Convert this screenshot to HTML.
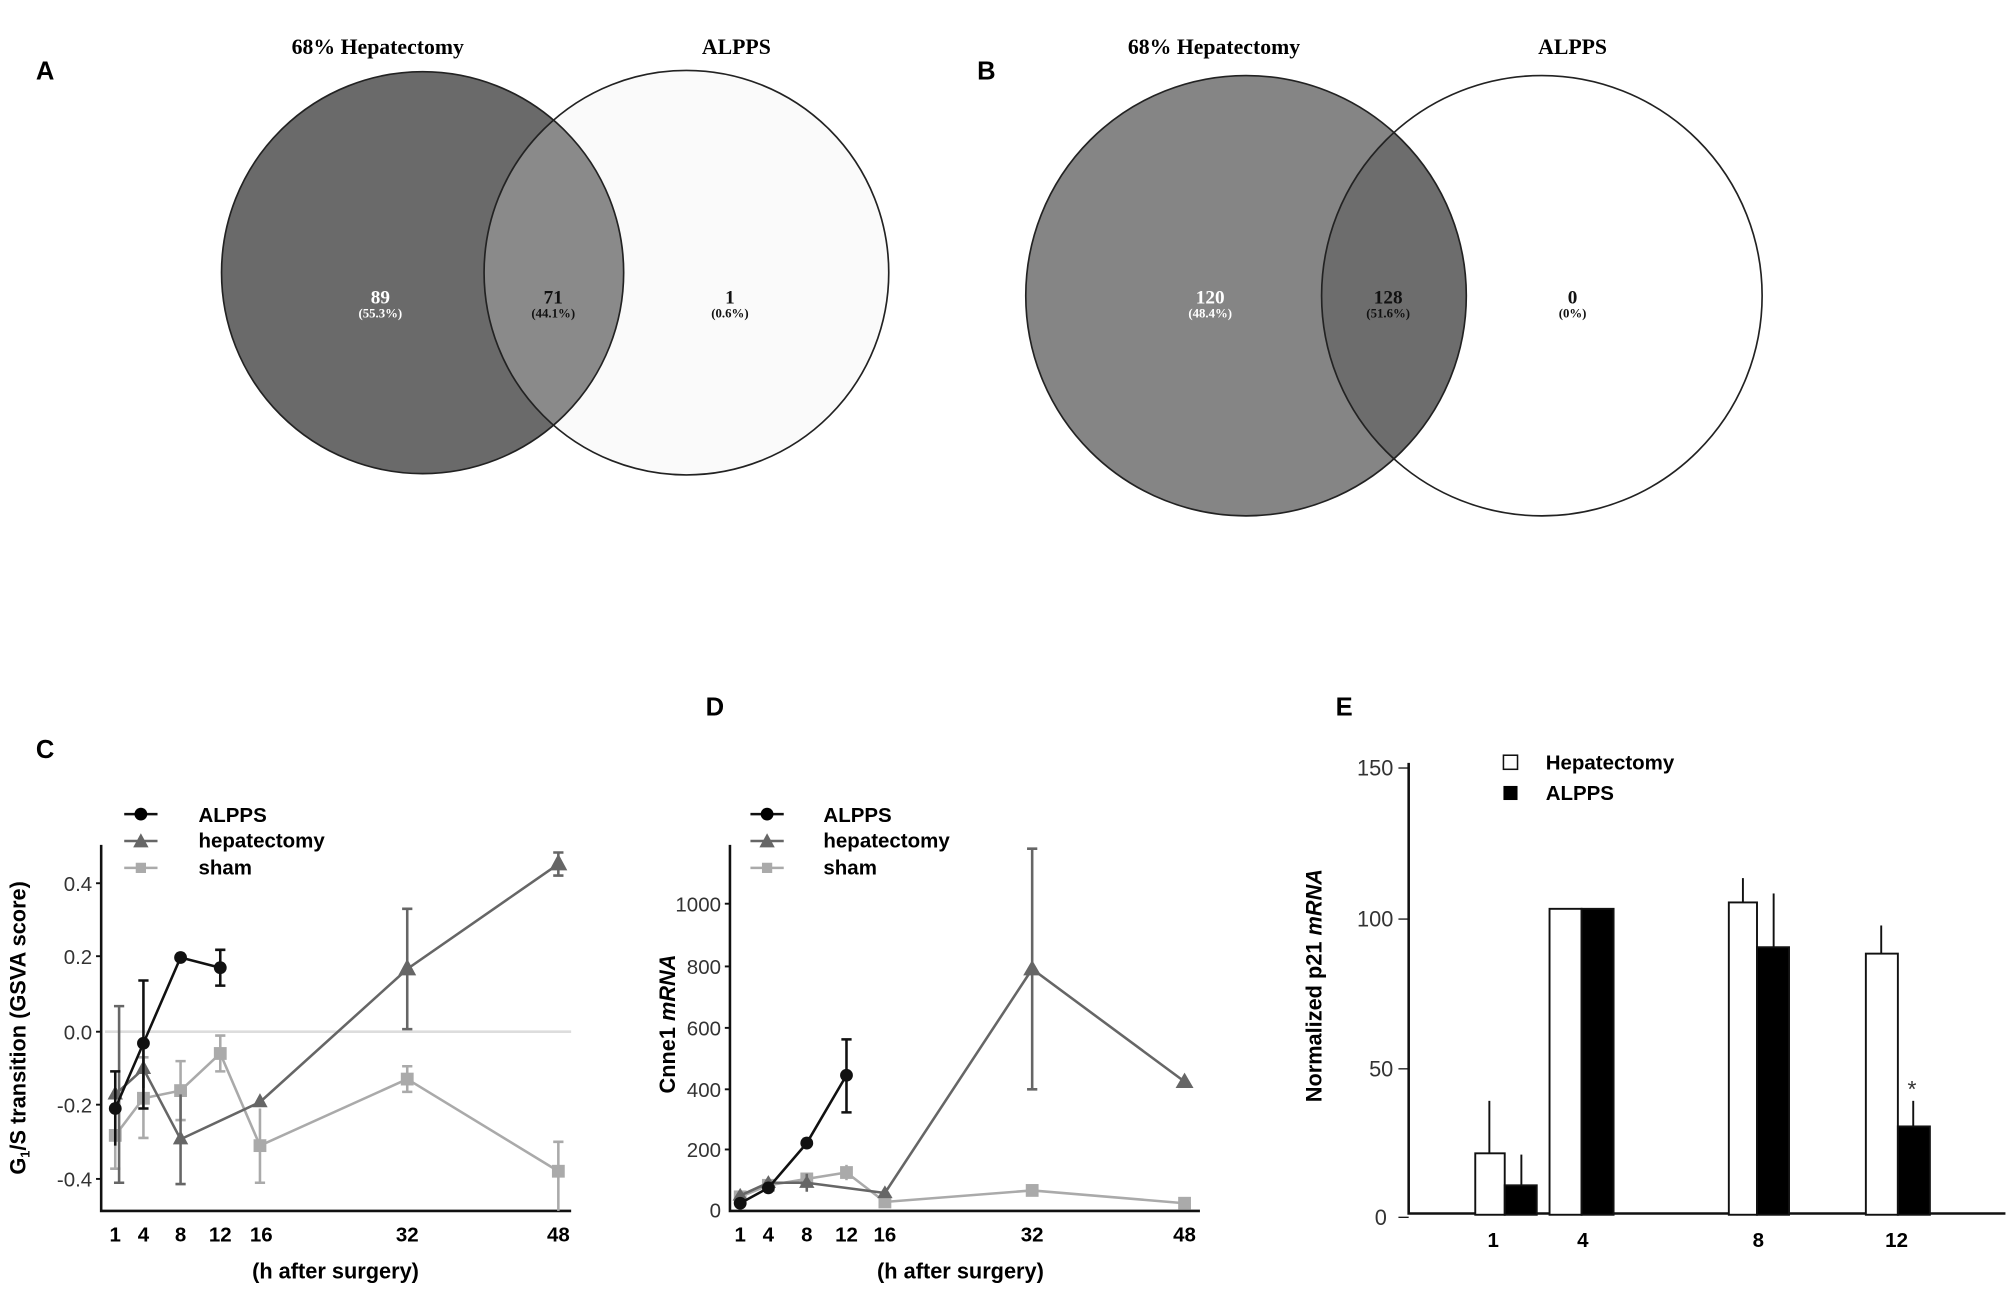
<!DOCTYPE html>
<html><head><meta charset="utf-8"><style>html,body{margin:0;padding:0;background:#fff}svg{display:block}</style></head>
<body>
<svg width="2008" height="1289" viewBox="0 0 1568 1007" preserveAspectRatio="none" xmlns="http://www.w3.org/2000/svg">
<rect width="1568" height="1007" fill="#fff"/>
<g font-family="Liberation Sans, sans-serif" font-weight="bold" font-size="20">
<text x="28" y="62">A</text><text x="763" y="62">B</text>
<text x="28" y="592">C</text><text x="551" y="559">D</text><text x="1043" y="559">E</text>
</g>
<!-- Venn A -->
<g font-family="Liberation Serif, serif" font-weight="bold">
<text x="295" y="42" font-size="17" text-anchor="middle">68% Hepatectomy</text>
<text x="575" y="42" font-size="17" text-anchor="middle">ALPPS</text>
<defs><clipPath id="ca"><circle cx="330" cy="213" r="157"/></clipPath><clipPath id="cb"><circle cx="973" cy="231" r="172"/></clipPath></defs>
<circle cx="330" cy="213" r="157" fill="#6a6a6a"/>
<circle cx="536" cy="213" r="158" fill="#fafafa"/>
<circle cx="536" cy="213" r="158" fill="#8a8a8a" clip-path="url(#ca)"/>
<circle cx="330" cy="213" r="157" fill="none" stroke="#222" stroke-width="1.3"/>
<circle cx="536" cy="213" r="158" fill="none" stroke="#222" stroke-width="1.3"/>
<text x="297" y="237" font-size="15" fill="#fff" text-anchor="middle">89</text>
<text x="297" y="248" font-size="10" fill="#fff" text-anchor="middle">(55.3%)</text>
<text x="432" y="237" font-size="15" fill="#111" text-anchor="middle">71</text>
<text x="432" y="248" font-size="10" fill="#111" text-anchor="middle">(44.1%)</text>
<text x="570" y="237" font-size="15" fill="#111" text-anchor="middle">1</text>
<text x="570" y="248" font-size="10" fill="#111" text-anchor="middle">(0.6%)</text>

<text x="948" y="42" font-size="17" text-anchor="middle">68% Hepatectomy</text>
<text x="1228" y="42" font-size="17" text-anchor="middle">ALPPS</text>
<circle cx="973" cy="231" r="172" fill="#858585"/>
<circle cx="1204" cy="231" r="172" fill="#fff"/>
<circle cx="1204" cy="231" r="172" fill="#6d6d6d" clip-path="url(#cb)"/>
<circle cx="973" cy="231" r="172" fill="none" stroke="#222" stroke-width="1.3"/>
<circle cx="1204" cy="231" r="172" fill="none" stroke="#222" stroke-width="1.3"/>
<text x="945" y="237" font-size="15" fill="#fff" text-anchor="middle">120</text>
<text x="945" y="248" font-size="10" fill="#fff" text-anchor="middle">(48.4%)</text>
<text x="1084" y="237" font-size="15" fill="#111" text-anchor="middle">128</text>
<text x="1084" y="248" font-size="10" fill="#111" text-anchor="middle">(51.6%)</text>
<text x="1228" y="237" font-size="15" fill="#111" text-anchor="middle">0</text>
<text x="1228" y="248" font-size="10" fill="#111" text-anchor="middle">(0%)</text>
</g>

<!-- Panel C -->
<g font-family="Liberation Sans, sans-serif">
<line x1="82" y1="806" x2="446" y2="806" stroke="#ddd" stroke-width="2"/>
<path d="M79 660V946H446" fill="none" stroke="#111" stroke-width="2"/>
<g font-size="16" fill="#333" text-anchor="end">
<text x="72" y="696">0.4</text><text x="72" y="753">0.2</text><text x="72" y="812">0.0</text><text x="72" y="869">-0.2</text><text x="72" y="927">-0.4</text></g>
<g stroke="#111" stroke-width="1.5"><line x1="75" y1="690" x2="79" y2="690"/><line x1="75" y1="747" x2="79" y2="747"/><line x1="75" y1="806" x2="79" y2="806"/><line x1="75" y1="863" x2="79" y2="863"/><line x1="75" y1="921" x2="79" y2="921"/></g>
<g font-size="16" font-weight="bold" text-anchor="middle">
<text x="90" y="970">1</text><text x="112" y="970">4</text><text x="141" y="970">8</text><text x="172" y="970">12</text><text x="204" y="970">16</text><text x="318" y="970">32</text><text x="436" y="970">48</text>
<text x="262" y="999" font-size="17">(h after surgery)</text></g>
<text transform="translate(20,803) rotate(-90)" font-size="17" font-weight="bold" text-anchor="middle">G<tspan font-size="10" dy="3">1</tspan><tspan dy="-3">/S transition (GSVA score)</tspan></text>
<g font-size="16" font-weight="bold"><text x="155" y="642">ALPPS</text><text x="155" y="662">hepatectomy</text><text x="155" y="683">sham</text></g>
<line x1="97" y1="636" x2="123" y2="636" stroke="#111" stroke-width="2"/><circle cx="110" cy="636" r="5"/>
<line x1="97" y1="657" x2="123" y2="657" stroke="#666" stroke-width="2"/><path d="M104 662L110 651L116 662Z" fill="#666"/>
<line x1="97" y1="678" x2="123" y2="678" stroke="#aaa" stroke-width="2"/><rect x="106" y="674" width="8" height="8" fill="#aaa"/>
<!-- sham -->
<g stroke="#aaa" stroke-width="2" fill="none">
<path d="M90 887L112 858L141 852L172 823L203 895L318 843L436 915"/>
<path d="M90 861V913M112 826V889M141 829V875M172 809V837M203 866V924M318 833V853M436 892V946"/>
<path d="M86 913h8M108 826h8M108 889h8M137 829h8M137 875h8M168 809h8M168 837h8M199 924h8M314 833h8M314 853h8M432 892h8"/>
</g>
<g fill="#aaa"><rect x="85" y="882" width="10" height="10"/><rect x="107" y="853" width="10" height="10"/><rect x="136" y="847" width="10" height="10"/><rect x="167" y="818" width="10" height="10"/><rect x="198" y="890" width="10" height="10"/><rect x="313" y="838" width="10" height="10"/><rect x="431" y="910" width="10" height="10"/></g>
<!-- hep -->
<g stroke="#666" stroke-width="2" fill="none">
<path d="M90 855L112 835L141 890L203 861L318 757L436 675"/>
<path d="M93 786V924M112 820V850M141 855V925M203 858V864M318 710V804M436 666V684"/>
<path d="M89 786h8M89 924h8M137 925h8M314 710h8M314 804h8M432 666h8M432 684h8"/>
</g>
<g fill="#666"><path d="M84 859L90 848L96 859Z"/><path d="M106 839L112 828L118 839Z"/><path d="M135 894L141 883L147 894Z"/><path d="M197 865L203 854L209 865Z"/><path d="M311 762L318 749L325 762Z"/><path d="M429 680L436 667L443 680Z"/></g>
<!-- alpps -->
<g stroke="#111" stroke-width="2" fill="none">
<path d="M90 866L112 815L141 748L172 756"/>
<path d="M90 837V895M112 766V866M172 742V770"/>
<path d="M86 837h8M108 766h8M108 866h8M168 742h8M168 770h8"/>
</g>
<g fill="#111"><circle cx="90" cy="866" r="5"/><circle cx="112" cy="815" r="5"/><circle cx="141" cy="748" r="5"/><circle cx="172" cy="756" r="5"/></g>
</g>

<!-- Panel D -->
<g font-family="Liberation Sans, sans-serif">
<path d="M570 660V946H937" fill="none" stroke="#111" stroke-width="2"/>
<g font-size="16" fill="#333" text-anchor="end">
<text x="563" y="712">1000</text><text x="563" y="761">800</text><text x="563" y="809">600</text><text x="563" y="857">400</text><text x="563" y="904">200</text><text x="563" y="951">0</text></g>
<g stroke="#111" stroke-width="1.5"><line x1="566" y1="706" x2="570" y2="706"/><line x1="566" y1="755" x2="570" y2="755"/><line x1="566" y1="803" x2="570" y2="803"/><line x1="566" y1="851" x2="570" y2="851"/><line x1="566" y1="898" x2="570" y2="898"/></g>
<g font-size="16" font-weight="bold" text-anchor="middle">
<text x="578" y="970">1</text><text x="600" y="970">4</text><text x="630" y="970">8</text><text x="661" y="970">12</text><text x="691" y="970">16</text><text x="806" y="970">32</text><text x="925" y="970">48</text>
<text x="750" y="999" font-size="17">(h after surgery)</text></g>
<text transform="translate(527,800) rotate(-90)" font-size="17" font-weight="bold" text-anchor="middle">Cnne1 <tspan font-style="italic">mRNA</tspan></text>
<g font-size="16" font-weight="bold"><text x="643" y="642">ALPPS</text><text x="643" y="662">hepatectomy</text><text x="643" y="683">sham</text></g>
<line x1="586" y1="636" x2="612" y2="636" stroke="#111" stroke-width="2"/><circle cx="599" cy="636" r="5"/>
<line x1="586" y1="657" x2="612" y2="657" stroke="#666" stroke-width="2"/><path d="M593 662L599 651L605 662Z" fill="#666"/>
<line x1="586" y1="678" x2="612" y2="678" stroke="#aaa" stroke-width="2"/><rect x="595" y="674" width="8" height="8" fill="#aaa"/>
<g stroke="#aaa" stroke-width="2" fill="none"><path d="M578 935L600 926L630 921L661 916L691 939L806 930L925 940"/><path d="M661 910V922"/></g>
<g fill="#aaa"><rect x="573" y="930" width="10" height="10"/><rect x="595" y="921" width="10" height="10"/><rect x="625" y="916" width="10" height="10"/><rect x="656" y="911" width="10" height="10"/><rect x="686" y="934" width="10" height="10"/><rect x="801" y="925" width="10" height="10"/><rect x="920" y="935" width="10" height="10"/></g>
<g stroke="#666" stroke-width="2" fill="none"><path d="M578 934L600 924L630 924L691 932L806 757L925 845"/><path d="M630 917V931M806 663V851M802 663h8M802 851h8"/></g>
<g fill="#666"><path d="M572 938L578 928L584 938Z"/><path d="M594 928L600 918L606 928Z"/><path d="M624 928L630 918L636 928Z"/><path d="M685 936L691 926L697 936Z"/><path d="M799 762L806 750L813 762Z"/><path d="M918 850L925 838L932 850Z"/></g>
<g stroke="#111" stroke-width="2" fill="none"><path d="M578 940L600 928L630 893L661 840"/><path d="M661 812V869M657 812h8M657 869h8"/></g>
<g fill="#111"><circle cx="578" cy="940" r="5"/><circle cx="600" cy="928" r="5"/><circle cx="630" cy="893" r="5"/><circle cx="661" cy="840" r="5"/></g>
</g>

<!-- Panel E -->
<g font-family="Liberation Sans, sans-serif">
<path d="M1100 596V948H1566" fill="none" stroke="#111" stroke-width="2"/>
<g stroke="#111" stroke-width="1"><line x1="1092" y1="600" x2="1100" y2="600"/><line x1="1092" y1="718" x2="1100" y2="718"/><line x1="1092" y1="835" x2="1100" y2="835"/><line x1="1092" y1="951" x2="1100" y2="951"/></g>
<g font-size="17" fill="#333" text-anchor="end"><text x="1088" y="606">150</text><text x="1088" y="724">100</text><text x="1088" y="841">50</text><text x="1083" y="957">0</text></g>
<g font-size="16" font-weight="bold" text-anchor="middle"><text x="1166" y="974">1</text><text x="1236" y="974">4</text><text x="1373" y="974">8</text><text x="1481" y="974">12</text></g>
<text transform="translate(1032,770) rotate(-90)" font-size="17" font-weight="bold" text-anchor="middle">Normalized p21 <tspan font-style="italic">mRNA</tspan></text>
<rect x="1174" y="590" width="11" height="11" fill="#fff" stroke="#111" stroke-width="1.2"/>
<rect x="1174" y="614" width="11" height="11" fill="#000"/>
<g font-size="16" font-weight="bold"><text x="1207" y="601">Hepatectomy</text><text x="1207" y="625">ALPPS</text></g>
<g stroke="#111" stroke-width="1.5">
<line x1="1163" y1="901" x2="1163" y2="860"/><line x1="1188" y1="926" x2="1188" y2="902"/>
<line x1="1361" y1="705" x2="1361" y2="686"/><line x1="1385" y1="740" x2="1385" y2="698"/>
<line x1="1469" y1="745" x2="1469" y2="723"/><line x1="1494" y1="880" x2="1494" y2="860"/>
</g>
<g stroke="#111" stroke-width="1.5">
<rect x="1152" y="901" width="23" height="48" fill="#fff"/><rect x="1175" y="926" width="25" height="23" fill="#000"/>
<rect x="1210" y="710" width="25" height="239" fill="#fff"/><rect x="1235" y="710" width="25" height="239" fill="#000"/>
<rect x="1350" y="705" width="22" height="244" fill="#fff"/><rect x="1372" y="740" width="25" height="209" fill="#000"/>
<rect x="1457" y="745" width="25" height="204" fill="#fff"/><rect x="1482" y="880" width="25" height="69" fill="#000"/>
</g>
<text x="1493" y="857" font-size="18" text-anchor="middle" fill="#333">*</text>
</g>
</svg>
</body></html>
